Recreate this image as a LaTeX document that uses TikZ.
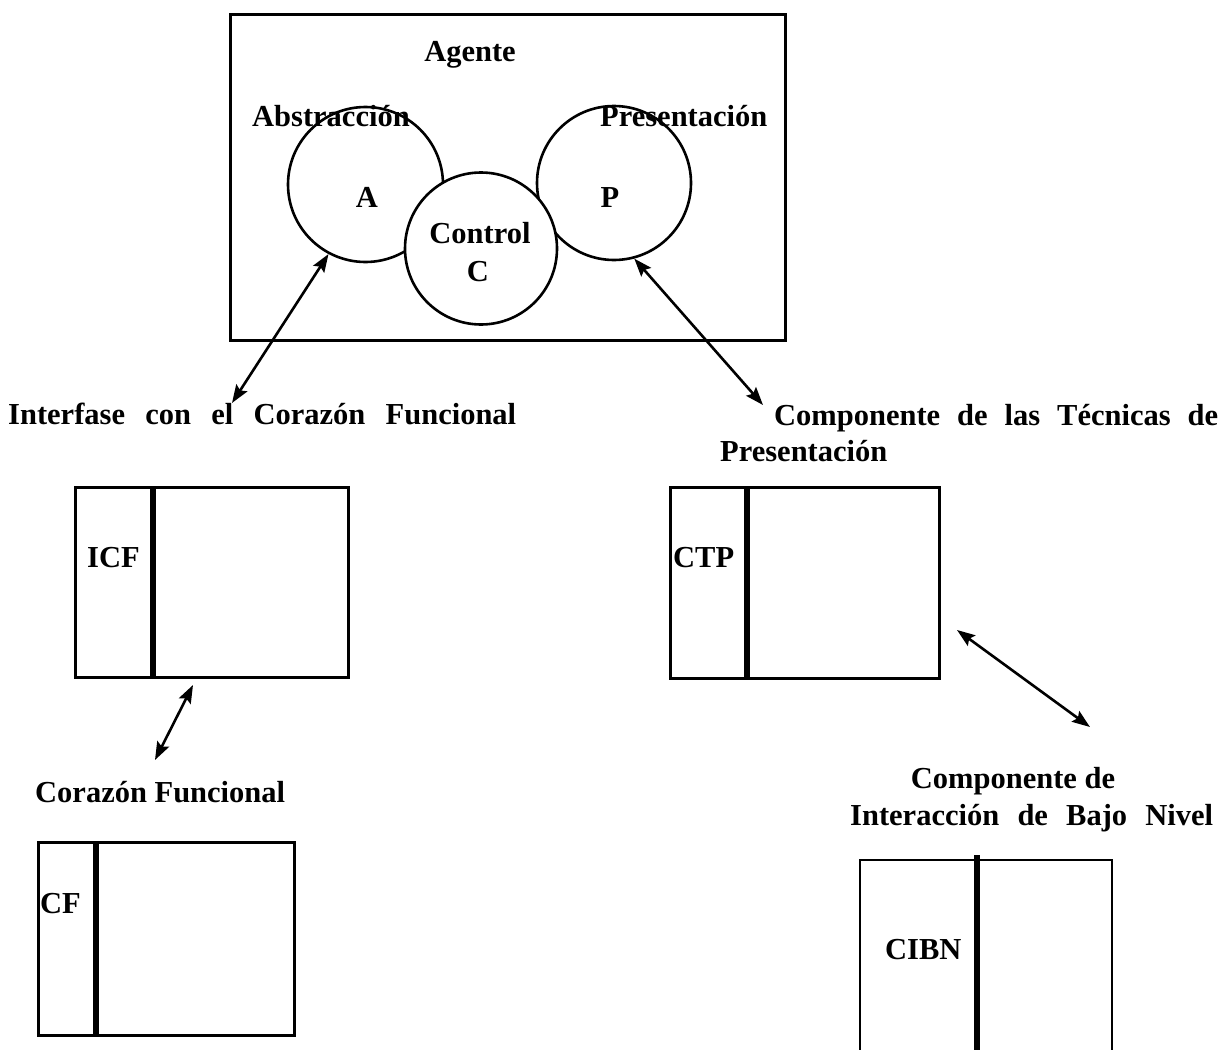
\documentclass[tikz,border=0pt]{standalone}
\usepackage{fontspec}
\setmainfont{Liberation Serif}
\usetikzlibrary{arrows.meta}
\begin{document}
\begin{tikzpicture}[x=1pt,y=-1pt,
  lbl/.style={font=\fontsize{30.5}{34}\selectfont\bfseries, inner sep=0pt, anchor=base west},
  lblc/.style={lbl, anchor=base},
  ring/.style={circle, draw, line width=2.6pt, minimum size=155pt, inner sep=0pt},
  frame/.style={draw, line width=2.6pt, inner sep=0pt, anchor=north west},
  divider/.style={line width=6.5pt},
  link/.style={line width=2.6pt,
    {Stealth[length=18pt,width=13pt,inset=3pt]}-{Stealth[length=18pt,width=13pt,inset=3pt]}}
]
\useasboundingbox (0,0) rectangle (1225,1049);

% agent frame
\node[frame, minimum width=555pt, minimum height=326pt] (agent) at (229,13) {};
\node[lblc] (agente) at (470,62) {Agente};

% abstraction, presentation and control
\node[ring] (A) at (365.5,184.5) {};
\node[ring, minimum size=154pt] (P) at (614,183) {};
\node[ring, fill=white, minimum size=152pt] (C) at (481,248.5) {};
\node[lbl] (abs) at (252,126) {Abstracción};
\node[lbl] (pres) at (600,126) {Presentación};
\node[lblc] (la) at (367,207) {A};
\node[lblc] (lp) at (610,207) {P};
\node[lblc] (lctrl) at (480,243) {Control};
\node[lblc] (lc) at (478,281) {C};

% component labels
\node[lbl] (ifc) at (8,424) {\makebox[508pt][s]{Interfase con el Corazón Funcional}};
\node[lbl] (ctp1) at (774,425) {\makebox[444pt][s]{Componente de las Técnicas de}};
\node[lbl] (ctp2) at (720,461) {Presentación};
\node[lbl] (cf) at (35,802) {Corazón Funcional};
\node[lblc] (cibn1) at (1013,788) {Componente de};
\node[lbl] (cibn2) at (850,825) {\makebox[363pt][s]{Interacción de Bajo Nivel}};

% component boxes
\node[frame, minimum width=273pt, minimum height=190pt] (icfbox) at (74,486) {};
\draw[divider] (153,486) -- (153,676);
\node[lbl] (icf) at (87,567) {ICF};

\node[frame, minimum width=269pt, minimum height=191pt] (ctpbox) at (669,486) {};
\draw[divider] (747,486) -- (747,677);
\node[lbl] (ctp) at (673,567) {CTP};

\node[frame, minimum width=256pt, minimum height=193pt] (cfbox) at (37,841) {};
\draw[divider] (96,841) -- (96,1034);
\node[lbl] (cfl) at (40,913) {CF};

\draw[line width=2.6pt] (860,1052) |- (1112,860) -- (1112,1052);
\draw[divider] (977,855) -- (977,1052);
\node[lbl] (cibn) at (885,959) {CIBN};

% connectors
\coordinate (e1) at (232,403);
\coordinate (e2) at (763,405);
\coordinate (e3a) at (193,685);
\coordinate (e3b) at (155,760);
\coordinate (e4a) at (957,630);
\coordinate (e4b) at (1090,727);
\draw[link] (A.242) -- (e1);
\draw[link] (P.285) -- (e2);
\draw[link] (e3a) -- (e3b);
\draw[link] (e4a) -- (e4b);
\end{tikzpicture}
\end{document}
